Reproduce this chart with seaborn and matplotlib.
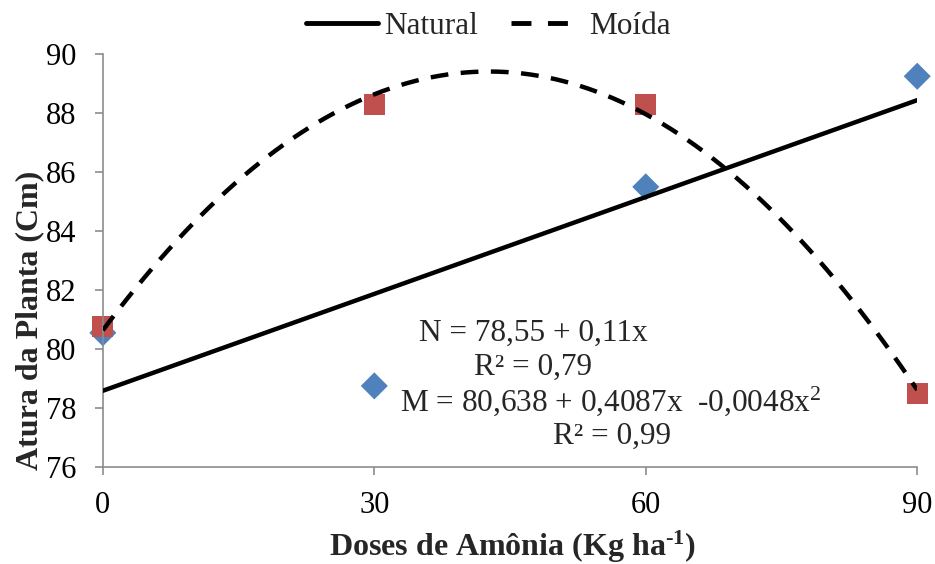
import numpy as np
import pandas as pd
import matplotlib
matplotlib.use("Agg")
import matplotlib.pyplot as plt
import seaborn as sns
from matplotlib.lines import Line2D

doses = [0, 30, 60, 90]
natural = [80.55, 78.75, 85.5, 89.25]
moida = [80.75, 88.3, 88.3, 78.5]
yticks = [76, 78, 80, 82, 84, 86, 88, 90]
xticks = [0, 30, 60, 90]

sns.set_theme(style="white")
plt.rcParams["font.family"] = ["Liberation Serif", "DejaVu Serif"]
plt.rcParams["mathtext.fontset"] = "custom"
plt.rcParams["mathtext.rm"] = "Liberation Serif"
plt.rcParams["mathtext.it"] = "Liberation Serif:italic"
plt.rcParams["mathtext.bf"] = "Liberation Serif:bold"

df_n = pd.DataFrame({"dose": doses, "altura": natural})
df_m = pd.DataFrame({"dose": doses, "altura": moida})

fig = plt.figure(figsize=(9.35, 5.64), dpi=100)
ax = fig.add_axes([0.110, 0.172, 0.871, 0.732])

sns.scatterplot(data=df_n, x="dose", y="altura", marker="D", s=190, color="#4f81bd",
                edgecolor="none", ax=ax, clip_on=False, zorder=2)
sns.scatterplot(data=df_m, x="dose", y="altura", marker="s", s=230, color="#c0504d",
                edgecolor="none", ax=ax, clip_on=False, zorder=2)

sns.regplot(data=df_n, x="dose", y="altura", order=1, ci=None, scatter=False, ax=ax,
            line_kws=dict(color="black", lw=3.2, zorder=3))
sns.regplot(data=df_m, x="dose", y="altura", order=2, ci=None, scatter=False, ax=ax,
            line_kws=dict(color="black", lw=3.2, ls=(0, (4, 2.8)), zorder=3))

ax.set_xlim(0, 90)
ax.set_ylim(76, 90)
ax.set_xticks(xticks)
ax.set_yticks(yticks)
ax.tick_params(axis="both", labelsize=22, colors="black", length=6, width=1.2,
               direction="out", color="#8c8c8c", left=True, bottom=True)
ax.tick_params(axis="x", pad=11)
ax.tick_params(axis="y", pad=13)
for side in ["top", "right"]:
    ax.spines[side].set_visible(False)
for side in ["left", "bottom"]:
    ax.spines[side].set_color("#8c8c8c")
    ax.spines[side].set_linewidth(1.2)

ax.set_xlabel("Doses de Amônia (Kg ha$^{\\mathbf{\\text{-}1}}$)", fontsize=23, fontweight="bold")
ax.set_ylabel("Atura da Planta (Cm)", fontsize=23, fontweight="bold")
ax.xaxis.set_label_coords(0.503, -0.193)
ax.yaxis.set_label_coords(-0.0897, 0.356)
ax.xaxis.label.set_va("center")
ax.yaxis.label.set_va("center")

fs = 22.5
fig.text(533 / 935, 1 - 333 / 564, "N = 78,55 + 0,11x", fontsize=fs, ha="center", va="center")
fig.text(533 / 935, 1 - 367 / 564, "R² = 0,79", fontsize=fs, ha="center", va="center")
fig.text(611 / 935, 1 - 401 / 564, "M = 80,638 + 0,4087x  -0,0048x$^{2}$", fontsize=fs, ha="center", va="center")
fig.text(612 / 935, 1 - 436 / 564, "R² = 0,99", fontsize=fs, ha="center", va="center")

handles = [Line2D([], [], color="black", lw=3.5),
           Line2D([], [], color="black", lw=3.5, ls=(0, (4.1, 3.4)))]
fig.legend(handles, ["Natural", "Moída"], loc="center", bbox_to_anchor=(488 / 935, 1 - 26 / 564),
           ncol=2, frameon=False, fontsize=22.5, handlelength=2.3, handletextpad=0.2,
           columnspacing=1.05, borderaxespad=0)

fig.savefig("out.png", dpi=100)
